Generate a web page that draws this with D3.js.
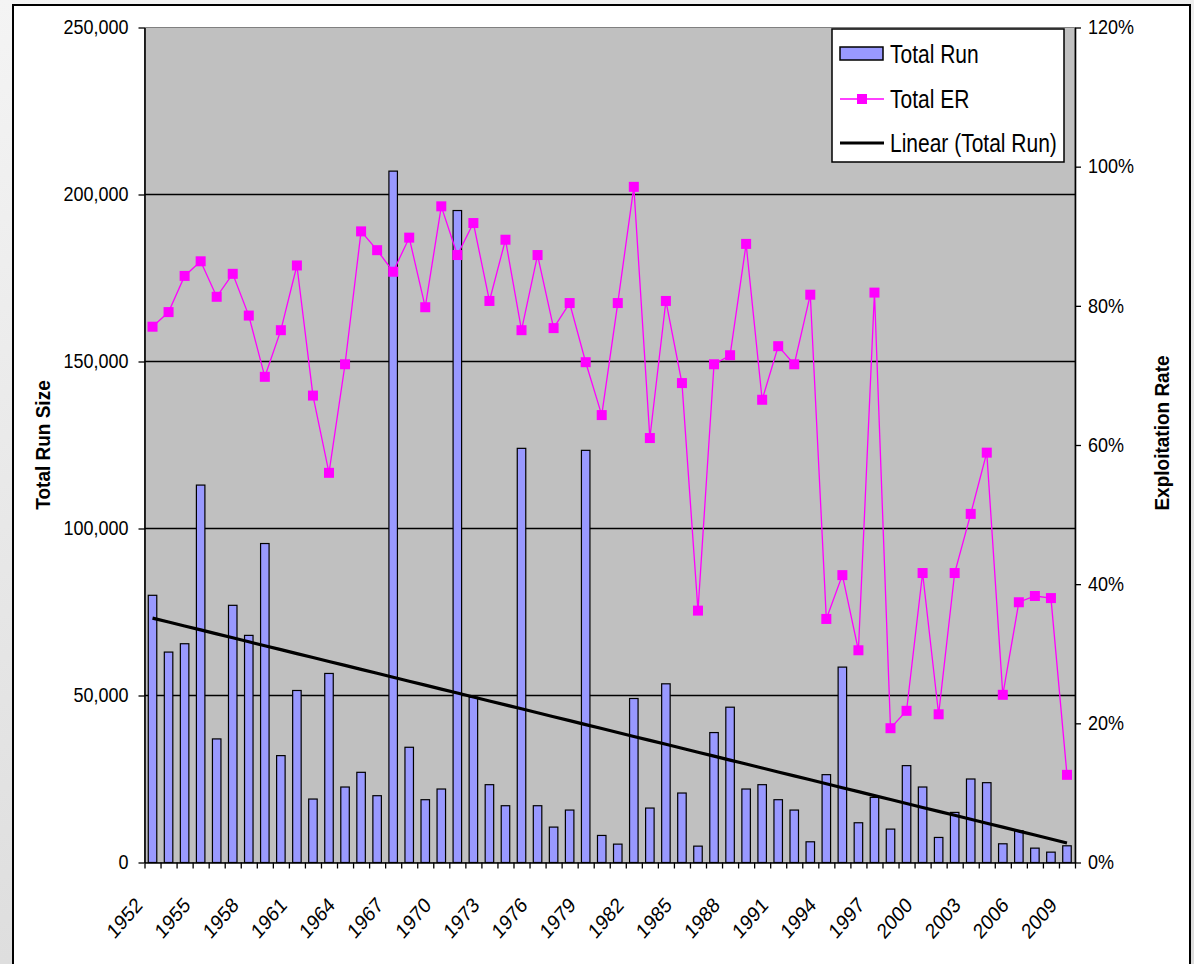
<!DOCTYPE html>
<html>
<head>
<meta charset="utf-8">
<script src="https://cdn.jsdelivr.net/npm/d3@7"></script>
<style>
  html, body { margin: 0; padding: 0; }
  body { width: 1194px; height: 964px; overflow: hidden; font-family: "Liberation Sans", Arial, sans-serif; }
  svg { display: block; }
</style>
</head>
<body>
<svg id="chart" width="1194" height="964"></svg>
<script>
// ---- data ----
const years = d3.range(1952, 2010);
const totalRun = [
  80000, 63000, 65500, 113000, 37000, 77000, 68000, 95500, 32000, 51500,
  19000, 56600, 22600, 27000, 20000, 207000, 34500, 18800, 22000, 195200,
  49500, 23300, 17000, 124000, 17000, 10600, 15700, 123400, 8100, 5500,
  49100, 16300, 53500, 20800, 4900, 38900, 46500, 22000, 23300, 18800,
  15700, 6200, 26300, 58500, 11900, 19500, 10000, 29000, 22600, 7500,
  15000, 25000, 23900, 5600, 9500, 4300, 3100, 5000
];
const totalER = [
  0.770, 0.791, 0.843, 0.864, 0.813, 0.846, 0.786, 0.698, 0.765, 0.858,
  0.671, 0.560, 0.716, 0.907, 0.880, 0.849, 0.898, 0.798, 0.943, 0.873,
  0.919, 0.807, 0.895, 0.765, 0.873, 0.768, 0.804, 0.719, 0.643, 0.804,
  0.971, 0.610, 0.807, 0.689, 0.362, 0.716, 0.729, 0.889, 0.665, 0.742,
  0.716, 0.816, 0.350, 0.413, 0.305, 0.819, 0.193, 0.218, 0.416, 0.213,
  0.416, 0.501, 0.589, 0.241, 0.374, 0.383, 0.380, 0.126
];
const leftTicks = [0, 50000, 100000, 150000, 200000, 250000];
const rightTicks = [0, 0.2, 0.4, 0.6, 0.8, 1.0, 1.2];
const labelYears = d3.range(1952, 2010, 3);
const legendItems = ["Total Run", "Total ER", "Linear (Total Run)"];

// ---- layout ----
const svg = d3.select("#chart");
const P = { left: 144.5, right: 1075, top: 27.5, bottom: 862.5 };
const STRETCH = 1.15;

// background
const defs = svg.append("defs");
const grad = defs.append("linearGradient").attr("id", "bg").attr("x1", 0).attr("y1", 0).attr("x2", 0.3).attr("y2", 1);
grad.append("stop").attr("offset", "0").attr("stop-color", "#f4f4f4");
grad.append("stop").attr("offset", "1").attr("stop-color", "#dcdcdc");
svg.append("rect").attr("width", 1194).attr("height", 964).attr("fill", "url(#bg)");
svg.append("rect").attr("x", 13).attr("y", 5).attr("width", 1177).attr("height", 980)
  .attr("fill", "#ffffff").attr("stroke", "#000").attr("stroke-width", 2);

// scales
const x = d3.scaleBand().domain(years).range([P.left, P.right]).paddingInner(0.47).paddingOuter(0.235);
const xc = d => x(d) + x.bandwidth() / 2;
const y = d3.scaleLinear().domain([0, 250000]).range([P.bottom, P.top]);
const y2 = d3.scaleLinear().domain([0, 1.2]).range([P.bottom, P.top]);
const xb = d3.scaleLinear().domain([0, years.length]).range([P.left, P.right]);

// plot background
svg.append("rect").attr("x", P.left).attr("y", P.top).attr("width", P.right - P.left).attr("height", P.bottom - P.top)
  .attr("fill", "#c0c0c0").attr("stroke", "#808080").attr("stroke-width", 1);

// gridlines
svg.append("g").selectAll("line").data(leftTicks.filter(d => d > 0 && d < 250000)).join("line")
  .attr("x1", P.left).attr("x2", P.right).attr("y1", d => y(d)).attr("y2", d => y(d))
  .attr("stroke", "#000").attr("stroke-width", 1.6);

// bars
svg.append("g").selectAll("rect").data(years).join("rect")
  .attr("x", d => x(d)).attr("width", x.bandwidth())
  .attr("y", (d, i) => y(totalRun[i])).attr("height", (d, i) => y(0) - y(totalRun[i]))
  .attr("fill", "#9999ff").attr("stroke", "#000").attr("stroke-width", 1.2);

// linear trend (least squares on Total Run)
const n = years.length;
const idx = d3.range(n);
const mx = d3.mean(idx), my = d3.mean(totalRun);
const slope = d3.sum(idx, i => (i - mx) * (totalRun[i] - my)) / d3.sum(idx, i => (i - mx) * (i - mx));
const icpt = my - slope * mx;
svg.append("path")
  .datum(idx)
  .attr("d", d3.line().x(i => xc(years[i])).y(i => y(icpt + slope * i)))
  .attr("fill", "none").attr("stroke", "#000").attr("stroke-width", 3.2);

// ER line
svg.append("path")
  .datum(idx)
  .attr("d", d3.line().x(i => xc(years[i])).y(i => y2(totalER[i])))
  .attr("fill", "none").attr("stroke", "#ff00ff").attr("stroke-width", 1.3);
svg.append("g").selectAll("rect").data(idx).join("rect")
  .attr("x", i => xc(years[i]) - 5).attr("y", i => y2(totalER[i]) - 5)
  .attr("width", 10).attr("height", 10).attr("fill", "#ff00ff");

// axes
function styleAxis(g) {
  g.selectAll("path.domain").attr("stroke", "#000").attr("stroke-width", 1.6);
  g.selectAll(".tick line").attr("stroke", "#000").attr("stroke-width", 1.3);
  g.selectAll("text").attr("fill", "#000").attr("font-family", "'Liberation Sans', Arial, sans-serif");
}
const gl = svg.append("g").attr("transform", `translate(${P.left},0)`)
  .call(d3.axisLeft(y).tickValues(leftTicks).tickFormat(d3.format(",")).tickSize(6).tickSizeOuter(0).tickPadding(10));
styleAxis(gl);
gl.selectAll("text").attr("font-size", 18).attr("transform", `scale(1,${STRETCH})`).attr("dy", "0.3em");

const gr = svg.append("g").attr("transform", `translate(${P.right},0)`)
  .call(d3.axisRight(y2).tickValues(rightTicks).tickFormat(d3.format(".0%")).tickSize(6).tickSizeOuter(0).tickPadding(7));
styleAxis(gr);
gr.selectAll("text").attr("font-size", 18).attr("transform", `scale(1,${STRETCH})`).attr("dy", "0.3em");

// x tick marks at category boundaries
const gx = svg.append("g").attr("transform", `translate(0,${P.bottom})`)
  .call(d3.axisBottom(xb).tickValues(d3.range(n + 1)).tickFormat("").tickSize(6).tickSizeOuter(0));
styleAxis(gx);

// x labels
const gxl = svg.append("g").attr("transform", `translate(0,${P.bottom})`)
  .call(d3.axisBottom(x).tickValues(labelYears).tickSize(0).tickPadding(0));
gxl.select("path.domain").remove();
gxl.selectAll("text")
  .attr("font-size", 18.5).attr("fill", "#000").attr("font-family", "'Liberation Sans', Arial, sans-serif")
  .attr("text-anchor", "end").attr("x", 0).attr("y", 0).attr("dy", 0)
  .attr("transform", `translate(-9,44) scale(1,${STRETCH}) rotate(-45)`);

// axis titles
svg.append("text").attr("transform", `translate(50,445) scale(${STRETCH * 0.92},1) rotate(-90)`)
  .attr("text-anchor", "middle").attr("font-size", 19).attr("font-weight", "bold")
  .attr("font-family", "'Liberation Sans', Arial, sans-serif").text("Total Run Size");
svg.append("text").attr("transform", `translate(1169,433) scale(${STRETCH * 0.92},1) rotate(-90)`)
  .attr("text-anchor", "middle").attr("font-size", 19).attr("font-weight", "bold")
  .attr("font-family", "'Liberation Sans', Arial, sans-serif").text("Exploitation Rate");

// legend
const lg = svg.append("g").attr("transform", "translate(832,29)");
lg.append("rect").attr("width", 232).attr("height", 133).attr("fill", "#fff").attr("stroke", "#000").attr("stroke-width", 1.5);
const rowY = [25, 70, 114];
lg.append("rect").attr("x", 8).attr("y", rowY[0] - 7).attr("width", 43).attr("height", 13)
  .attr("fill", "#9999ff").attr("stroke", "#000").attr("stroke-width", 1.5);
lg.append("line").attr("x1", 8).attr("x2", 52).attr("y1", rowY[1]).attr("y2", rowY[1]).attr("stroke", "#ff00ff").attr("stroke-width", 1.3);
lg.append("rect").attr("x", 25).attr("y", rowY[1] - 5).attr("width", 10).attr("height", 10).attr("fill", "#ff00ff");
lg.append("line").attr("x1", 8).attr("x2", 52).attr("y1", rowY[2]).attr("y2", rowY[2]).attr("stroke", "#000").attr("stroke-width", 3.2);
lg.selectAll("text.item").data(legendItems).join("text").attr("class", "item")
  .attr("transform", (d, i) => `translate(58,${rowY[i]}) scale(1,${STRETCH * 1.05})`)
  .attr("dy", "0.36em").attr("font-size", 21)
  .attr("font-family", "'Liberation Sans', Arial, sans-serif").text(d => d);
</script>
</body>
</html>
